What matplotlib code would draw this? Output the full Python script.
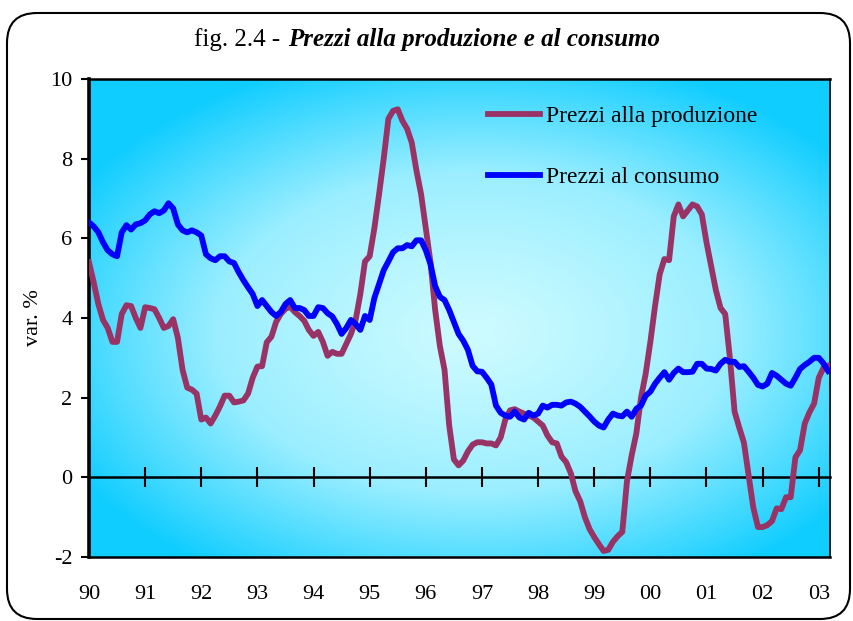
import numpy as np
import matplotlib
matplotlib.use("Agg")
import matplotlib.pyplot as plt
from matplotlib.patches import FancyBboxPatch
from matplotlib.colors import LinearSegmentedColormap
from matplotlib.offsetbox import TextArea, HPacker, AnchoredOffsetbox

# monthly % changes, Jan 1990 - Mar 2003
start_year = 1990
produzione = [
    5.4, 4.9, 4.35, 3.95, 3.75, 3.4, 3.4, 4.1, 4.32, 4.3, 4.0, 3.75,
    4.27, 4.25, 4.22, 4.0, 3.75, 3.8, 3.97, 3.5, 2.7, 2.25, 2.2, 2.1,
    1.45, 1.5, 1.35, 1.55, 1.78, 2.05, 2.05, 1.88, 1.9, 1.93, 2.1, 2.5,
    2.78, 2.79, 3.39, 3.53, 3.9, 4.1, 4.23, 4.28, 4.15, 4.05, 3.93, 3.7,
    3.55, 3.65, 3.4, 3.05, 3.15, 3.1, 3.1, 3.35, 3.6, 3.95, 4.6, 5.42,
    5.55, 6.25, 7.1, 8.0, 9.0, 9.2, 9.24, 8.95, 8.75, 8.4, 7.7, 7.1,
    6.25, 5.4, 4.2, 3.3, 2.7, 1.3, 0.45, 0.3, 0.42, 0.65, 0.82, 0.88,
    0.88, 0.85, 0.85, 0.8, 1.0, 1.45, 1.68, 1.71, 1.65, 1.6, 1.55, 1.5,
    1.4, 1.3, 1.05, 0.88, 0.85, 0.52, 0.38, 0.1, -0.35, -0.6, -1.0, -1.3,
    -1.5, -1.68, -1.85, -1.82, -1.62, -1.48, -1.37, -0.1, 0.55, 1.1, 2.0, 2.6,
    3.4, 4.3, 5.1, 5.48, 5.45, 6.55, 6.85, 6.55, 6.7, 6.85, 6.8, 6.6,
    5.9, 5.3, 4.7, 4.25, 4.1, 3.0, 1.65, 1.25, 0.87, 0.05, -0.76, -1.25,
    -1.25, -1.2, -1.1, -0.78, -0.8, -0.5, -0.5, 0.5, 0.68, 1.35, 1.63, 1.85,
    2.5, 2.75, 2.8,
]
consumo = [
    6.4, 6.3, 6.15, 5.9, 5.7, 5.6, 5.55, 6.15, 6.33, 6.22, 6.35, 6.38,
    6.45, 6.6, 6.68, 6.63, 6.7, 6.88, 6.75, 6.35, 6.2, 6.15, 6.2, 6.15,
    6.07, 5.6, 5.5, 5.45, 5.55, 5.55, 5.42, 5.38, 5.15, 4.95, 4.77, 4.6,
    4.3, 4.45, 4.3, 4.15, 4.05, 4.15, 4.35, 4.45, 4.25, 4.25, 4.2, 4.05,
    4.05, 4.27, 4.25, 4.12, 4.04, 3.85, 3.6, 3.75, 3.95, 3.85, 3.7, 4.05,
    3.95, 4.5, 4.85, 5.2, 5.42, 5.65, 5.75, 5.75, 5.83, 5.8, 5.95, 5.95,
    5.7, 5.35, 4.8, 4.53, 4.45, 4.2, 3.9, 3.6, 3.43, 3.2, 2.8, 2.66,
    2.65, 2.5, 2.33, 1.8, 1.62, 1.55, 1.52, 1.65, 1.5, 1.45, 1.62, 1.55,
    1.6, 1.8, 1.75, 1.82, 1.82, 1.8, 1.88, 1.9, 1.85, 1.77, 1.65, 1.53,
    1.4, 1.3, 1.25, 1.45, 1.6, 1.55, 1.53, 1.65, 1.52, 1.72, 1.8, 2.05,
    2.15, 2.35, 2.5, 2.64, 2.45, 2.62, 2.73, 2.64, 2.64, 2.65, 2.85, 2.85,
    2.73, 2.72, 2.68, 2.85, 2.95, 2.9, 2.9, 2.77, 2.79, 2.65, 2.5, 2.32,
    2.28, 2.35, 2.62, 2.55, 2.45, 2.35, 2.3, 2.5, 2.72, 2.82, 2.9, 3.0,
    3.0, 2.86, 2.67,
]
year_labels = ["90", "91", "92", "93", "94", "95", "96",
               "97", "98", "99", "00", "01", "02", "03"]

t = start_year + np.arange(len(produzione)) / 12
years = start_year + np.arange(len(year_labels))

plt.rcParams["font.family"] = ["Liberation Serif", "DejaVu Serif"]
plt.rcParams["axes.unicode_minus"] = False

fig = plt.figure(figsize=(8.54, 6.21), dpi=100)

# rounded frame around the whole figure
frame = FancyBboxPatch((0.07, 0.02), 8.43, 6.06,
                       boxstyle="round,pad=0,rounding_size=0.3",
                       transform=fig.dpi_scale_trans,
                       facecolor="none", edgecolor="black", linewidth=1.5,
                       zorder=-1)
fig.patches.append(frame)

ax = fig.add_axes([0.1042, 0.1031, 0.8677, 0.7697])

# radial background gradient
gx, gy = np.meshgrid(np.linspace(0, 1, 400), np.linspace(0, 1, 400))
d = np.sqrt(((gx - 0.52) / 0.62) ** 2 + ((gy - 0.47) / 0.6) ** 2)
d = np.clip(d, 0, 1) ** 1.2
cmap = LinearSegmentedColormap.from_list("bg", ["#cdfbff", "#9aeeff", "#10cdff"])
ax.imshow(d, cmap=cmap, extent=(0, 1, 0, 1), transform=ax.transAxes,
          aspect="auto", origin="lower", zorder=0, interpolation="bilinear")

ax.plot(t, produzione, color="#993366", lw=4.2, label="Prezzi alla produzione",
        solid_joinstyle="round", zorder=3)
ax.plot(t, consumo, color="#0000ff", lw=4.2, label="Prezzi al consumo",
        solid_joinstyle="round", zorder=3)

ax.set_xlim(start_year, start_year + 13.2)
ax.set_ylim(-2, 10)
ax.set_yticks(range(-2, 11, 2))
ax.set_xticks(years)
ax.set_xticklabels(year_labels)
ax.tick_params(axis="x", length=0, pad=20, labelsize=16)
ax.tick_params(axis="y", direction="out", length=6, width=1.5, pad=6, labelsize=16)

for side, w in [("left", 2.6), ("top", 1.8), ("right", 1.2), ("bottom", 1.8)]:
    ax.spines[side].set_linewidth(w)
    ax.spines[side].set_color("black")

# zero line with year ticks
y0, y1 = ax.get_ylim()
zero = ax.secondary_xaxis((0 - y0) / (y1 - y0))
zero.set_xticks(years[1:])
zero.tick_params(direction="inout", length=14, width=1.5, labelbottom=False, labeltop=False)
zero.spines["bottom"].set_linewidth(1.8)

ax.set_ylabel("var. %", fontsize=16)
ax.yaxis.set_label_coords(-0.062, 0.5)

ax.legend(loc="upper left", bbox_to_anchor=(0.538, 0.945), frameon=False,
          fontsize=17, handlelength=2.2, handletextpad=0.25, labelspacing=1.7,
          borderpad=0, borderaxespad=0)

# title: plain prefix + bold italic text
t1 = TextArea("fig. 2.4 -", textprops=dict(fontsize=18))
t2 = TextArea("Prezzi alla produzione e al consumo",
              textprops=dict(fontsize=18, weight="bold", style="italic"))
box = HPacker(children=[t1, t2], align="baseline", pad=0, sep=5)
title = AnchoredOffsetbox(loc="center", child=box, frameon=False,
                          bbox_to_anchor=(0.5, 0.936),
                          bbox_transform=fig.transFigure, borderpad=0)
fig.add_artist(title)

fig.savefig("out.png", dpi=100)
